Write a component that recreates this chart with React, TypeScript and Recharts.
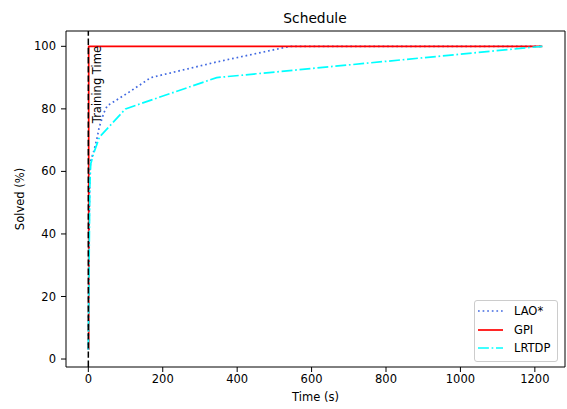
import React from 'react';
import { LineChart, Line, XAxis, YAxis, ReferenceLine } from 'recharts';

const laoX = [0, 2, 4, 6.4, 15, 24, 29, 42, 51, 105, 168, 345, 542, 1220];
const laoY = [3, 40, 60, 63.4, 66.6, 70.9, 74, 78.8, 81, 85, 90, 95, 100, 100];
const gpiX = [1, 1, 1220];
const gpiY = [3, 100, 100];
const lrtdpX = [0, 2, 4, 6.4, 15, 30, 100, 345, 1220];
const lrtdpY = [3, 30, 55, 62.4, 66, 71, 80, 90, 100];
const xTicks = [0, 200, 400, 600, 800, 1000, 1200];
const yTicks = [0, 20, 40, 60, 80, 100];
const seriesNames = ['LAO*', 'GPI', 'LRTDP'];
const xDomain = [-60, 1281];
const yDomain = [-2.55, 104.9];

const toPts = (xs: number[], ys: number[]) => xs.map((x, i) => ({ x, y: ys[i] }));
const laoData = toPts(laoX, laoY);
const gpiData = toPts(gpiX, gpiY);
const lrtdpData = toPts(lrtdpX, lrtdpY);

const FONT = '"DejaVu Sans", sans-serif';
const LW = 1.7;
const styles = [
  { color: '#4169e1', dash: '1.7 2.9' },
  { color: '#ff0000', dash: undefined as string | undefined },
  { color: '#00ffff', dash: '10.9 2.7 1.7 2.7' },
];

const LegendBox = () => (
  <div
    style={{
      position: 'absolute',
      left: 474,
      top: 300,
      width: 84,
      height: 62,
      boxSizing: 'border-box',
      border: '1px solid #cccccc',
      borderRadius: 3,
      background: 'rgba(255,255,255,0.8)',
      fontFamily: FONT,
      fontSize: 11.5,
      color: '#000',
    }}
  >
    {seriesNames.map((n, i) => (
      <div
        key={n}
        style={{ position: 'absolute', left: 0, top: 1 + i * 18.6, height: 18, width: 82, display: 'flex', alignItems: 'center' }}
      >
        <svg width={36} height={18} style={{ display: 'block' }}>
          <line x1={3} y1={9} x2={28} y2={9} stroke={styles[i].color} strokeWidth={LW} strokeDasharray={styles[i].dash} />
        </svg>
        <span style={{ marginLeft: 3, lineHeight: '18px' }}>{n}</span>
      </div>
    ))}
  </div>
);

const TrainingLabel = (props: any) => {
  const vb = props.viewBox || {};
  const x = (vb.x ?? 0) + 9;
  const y = (vb.y ?? 0) + 15;
  return (
    <text
      x={x}
      y={y}
      transform={`rotate(-90, ${x}, ${y})`}
      textAnchor="end"
      dominantBaseline="central"
      fontFamily={FONT}
      fontSize={11.5}
      fill="#000"
    >
      Training Time
    </text>
  );
};

export default function App() {
  const tickStyle = { fontFamily: FONT, fontSize: 11.5, fill: '#000' };
  return (
    <div style={{ position: 'absolute', left: 0, top: 0, width: 567, height: 409, background: '#fff' }}>
      <div
        style={{
          position: 'absolute',
          left: 215,
          width: 200,
          top: 10,
          textAlign: 'center',
          fontFamily: FONT,
          fontSize: 13.8,
          lineHeight: '17px',
          color: '#000',
        }}
      >
        Schedule
      </div>
      <LineChart width={567} height={409} margin={{ top: 31, right: 2, bottom: 2, left: 0 }}>
        <XAxis
          dataKey="x"
          type="number"
          domain={xDomain}
          ticks={xTicks}
          allowDataOverflow
          height={40}
          tickSize={5}
          tickMargin={3}
          stroke="#000"
          tick={tickStyle}
          label={{ value: 'Time (s)', position: 'insideBottom', offset: 6, style: { fontFamily: FONT, fontSize: 11.5, fill: '#000' } }}
        />
        <YAxis
          dataKey="y"
          type="number"
          domain={yDomain}
          ticks={yTicks}
          allowDataOverflow
          width={66}
          tickSize={5}
          tickMargin={5}
          stroke="#000"
          tick={tickStyle}
          label={{ value: 'Solved (%)', angle: -90, position: 'insideLeft', offset: 20, style: { textAnchor: 'middle', fontFamily: FONT, fontSize: 11.5, fill: '#000' } }}
        />
        <ReferenceLine x={xDomain[1]} stroke="#000" strokeWidth={1} ifOverflow="visible" />
        <ReferenceLine y={yDomain[1]} stroke="#000" strokeWidth={1} ifOverflow="visible" />
        <Line data={laoData} dataKey="y" name="LAO*" stroke={styles[0].color} strokeWidth={LW} strokeDasharray={styles[0].dash} dot={false} isAnimationActive={false} />
        <Line data={gpiData} dataKey="y" name="GPI" stroke={styles[1].color} strokeWidth={LW} dot={false} isAnimationActive={false} />
        <Line data={lrtdpData} dataKey="y" name="LRTDP" stroke={styles[2].color} strokeWidth={LW} strokeDasharray={styles[2].dash} dot={false} isAnimationActive={false} />
        <ReferenceLine x={0} stroke="#000" strokeWidth={1.5} strokeDasharray="6.4 2.8" label={<TrainingLabel />} />
      </LineChart>
      <LegendBox />
    </div>
  );
}
